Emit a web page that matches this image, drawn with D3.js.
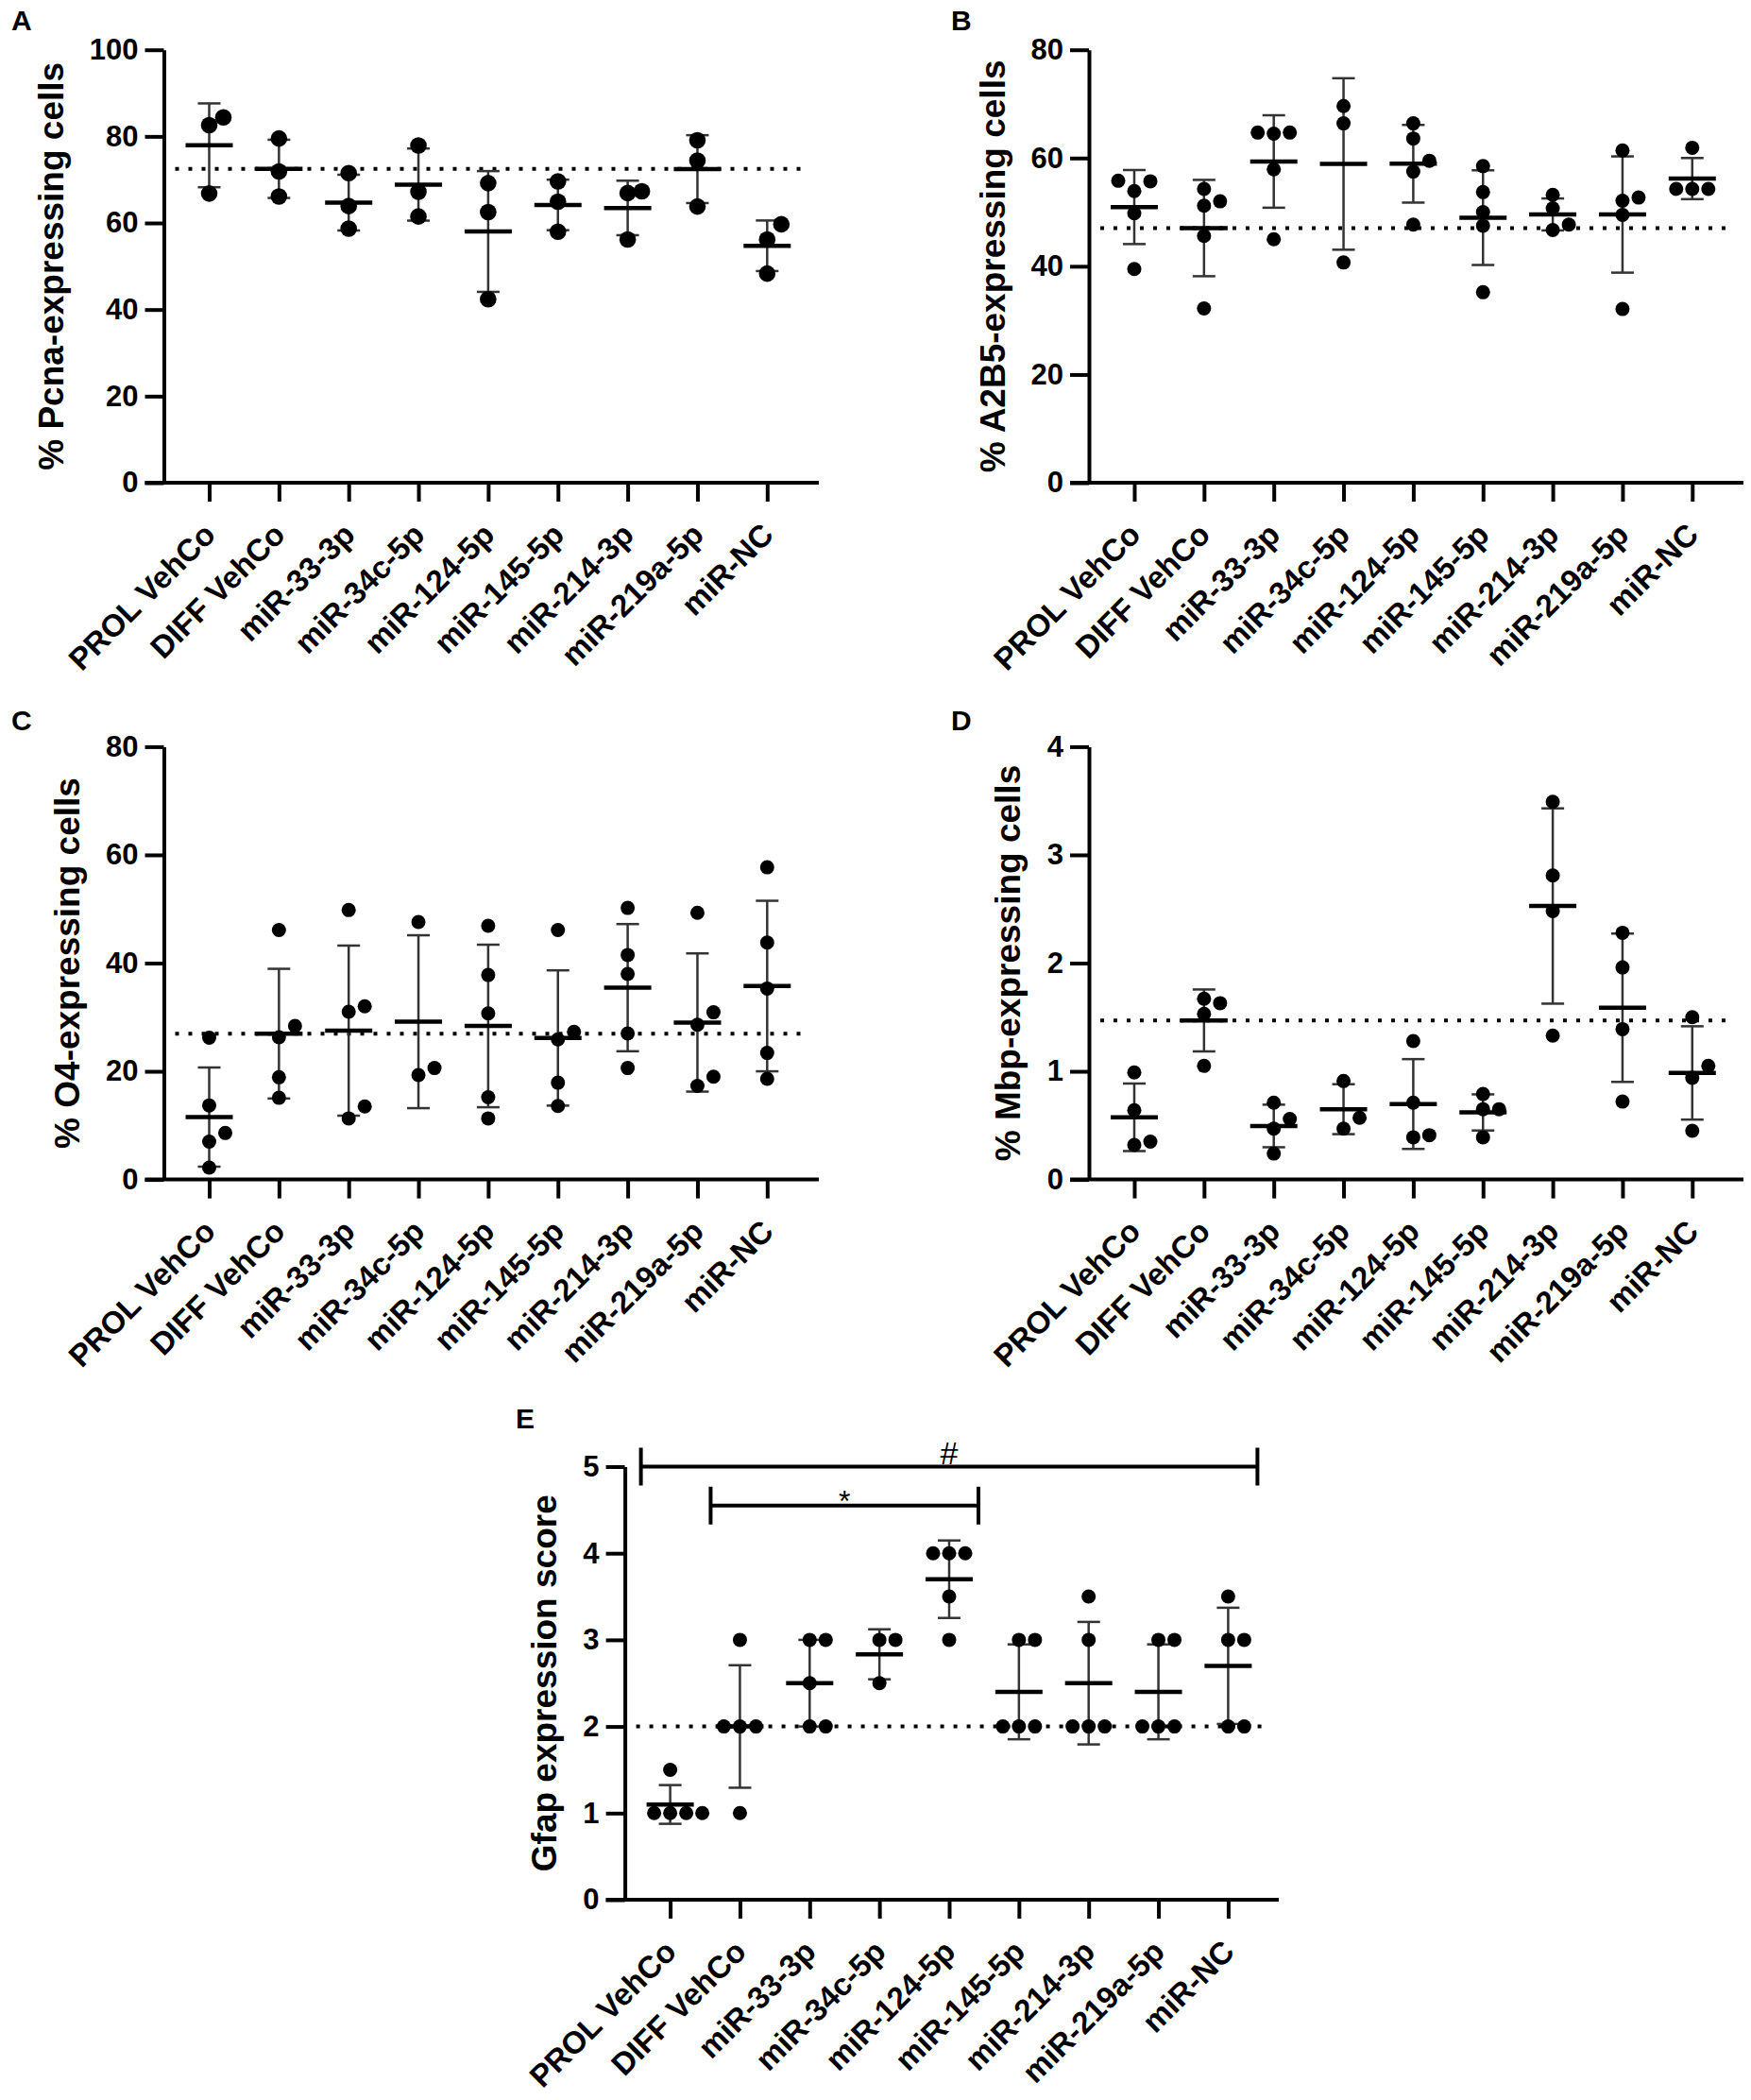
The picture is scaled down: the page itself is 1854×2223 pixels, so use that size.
<!DOCTYPE html>
<html>
<head>
<meta charset="utf-8">
<script src="https://cdn.jsdelivr.net/npm/d3@7"></script>
<style>
  html, body { margin: 0; padding: 0; background: #fff; }
  svg { display: block; }
  text { font-family: Arial, "Liberation Sans", Helvetica, sans-serif; }
</style>
</head>
<body>
<svg id="chart" width="1854" height="2223"></svg>
<script>
// ---------------- DATA ----------------
const categories = ["PROL VehCo", "DIFF VehCo", "miR-33-3p", "miR-34c-5p", "miR-124-5p",
                    "miR-145-5p", "miR-214-3p", "miR-219a-5p", "miR-NC"];

// Panel A: % Pcna-expressing cells (one array of replicate values per category)
const pcnaValues = [
  [84.4, 82.6, 66.8],
  [79.5, 71.9, 66.1],
  [71.5, 63.9, 58.7],
  [77.9, 67.2, 61.5],
  [69.2, 62.5, 42.4],
  [69.6, 64.9, 58.0],
  [67.3, 66.9, 56.2],
  [79.1, 74.4, 63.8],
  [59.7, 56.2, 48.3]
];
const pcnaTicks = [0, 20, 40, 60, 80, 100];

// Panel B: % A2B5-expressing cells
const a2b5Values = [
  [55.7, 55.8, 53.9, 49.8, 39.5],
  [52.0, 54.3, 51.2, 45.6, 32.2],
  [64.5, 64.7, 64.7, 57.9, 45.0],
  [69.6, 66.4, 40.7],
  [59.5, 66.4, 63.6, 57.5, 47.7],
  [58.5, 53.7, 50.0, 47.5, 35.2],
  [53.2, 50.7, 46.7, 47.7],
  [61.4, 52.1, 52.7, 49.5, 32.1],
  [61.9, 54.3, 54.3, 54.3]
];
const a2b5Ticks = [0, 20, 40, 60, 80];

// Panel C: % O4-expressing cells
const o4Values = [
  [26.2, 13.7, 8.6, 7.0, 2.2],
  [46.1, 28.4, 26.3, 18.9, 15.1],
  [49.8, 31.0, 32.0, 11.3, 13.5],
  [47.6, 19.3, 20.6],
  [46.9, 37.8, 30.7, 15.2, 11.3],
  [46.1, 27.3, 25.9, 17.9, 13.6],
  [50.2, 41.5, 38.0, 27.0, 20.6],
  [49.3, 30.9, 28.6, 19.0, 17.3],
  [57.7, 43.8, 35.3, 23.4, 18.6]
];
const o4Ticks = [0, 20, 40, 60, 80];

// Panel D: % Mbp-expressing cells
const mbpValues = [
  [0.99, 0.64, 0.32, 0.35],
  [1.63, 1.67, 1.53, 1.05],
  [0.71, 0.56, 0.47, 0.24],
  [0.91, 0.47, 0.57],
  [1.28, 0.71, 0.39, 0.41],
  [0.79, 0.65, 0.65, 0.39],
  [3.49, 2.81, 2.48, 1.33],
  [2.28, 1.96, 1.39, 0.72],
  [1.50, 1.05, 0.94, 0.45]
];
const mbpTicks = [0, 1, 2, 3, 4];

// Panel E: Gfap expression score
const gfapValues = [
  [1.5, 1, 1, 1, 1],
  [3, 2, 2, 2, 1],
  [3, 3, 2.5, 2, 2],
  [3, 3, 2.5],
  [4, 4, 4, 3.5, 3],
  [3, 3, 2, 2, 2],
  [3.5, 3, 2, 2, 2],
  [3, 3, 2, 2, 2],
  [3.5, 3, 3, 2, 2]
];
const gfapTicks = [0, 1, 2, 3, 4, 5];

// Significance brackets in panel E
const gfapSigFrom  = ["PROL VehCo", "DIFF VehCo"];
const gfapSigTo    = ["miR-NC", "miR-124-5p"];
const gfapSigLevel = [5, 4.55];
const gfapSigLabel = ["#", "*"];

// Reference (dotted) line = mean of this group
const referenceGroup = "DIFF VehCo";

// ---------------- PANELS (text + layout) ----------------
const panels = [
  { letter: "A", title: "% Pcna-expressing cells",  values: pcnaValues, ticks: pcnaTicks,
    letterX: 12,  letterY: 32,   axisX: 173.5, yTop: 52.7,   y0: 511,    xEnd: 867,  r: 8.8, slot: 15, thr: 17 },
  { letter: "B", title: "% A2B5-expressing cells",  values: a2b5Values, ticks: a2b5Ticks,
    letterX: 1007, letterY: 32,  axisX: 1153,  yTop: 52.7,   y0: 511,    xEnd: 1846, r: 7.5, slot: 17, thr: 14 },
  { letter: "C", title: "% O4-expressing cells",    values: o4Values,   ticks: o4Ticks,
    letterX: 12,  letterY: 773,  axisX: 173.5, yTop: 790.4,  y0: 1248.6, xEnd: 867,  r: 7.5, slot: 17, thr: 14 },
  { letter: "D", title: "% Mbp-expressing cells",   values: mbpValues,  ticks: mbpTicks,
    letterX: 1007, letterY: 773, axisX: 1153,  yTop: 790.4,  y0: 1248.6, xEnd: 1846, r: 7.5, slot: 17, thr: 14 },
  { letter: "E", title: "Gfap expression score",    values: gfapValues, ticks: gfapTicks,
    letterX: 546, letterY: 1512, axisX: 661.6, yTop: 1552.5, y0: 2011,   xEnd: 1354, r: 7.5, slot: 17, thr: 14,
    sig: true }
];

const svg = d3.select("#chart");
svg.append("rect").attr("width", 1854).attr("height", 2223).attr("fill", "#fff");

const BAND = 73.85;      // spacing between categories
const FIRST = 48;        // first category offset from y axis
const ERR = "#333";

function swarm(vals, y, slot, thr) {
  const pts = vals.map(v => ({ v, y: y(v) })).sort((a, b) => a.v - b.v);
  const placed = [];
  pts.forEach(p => {
    for (let k = 0; k < 30; k++) {
      const off = k === 0 ? 0 : (k % 2 === 1 ? 1 : -1) * Math.ceil(k / 2) * slot;
      const clash = placed.some(q => Math.abs(q.off - off) < slot * 0.9 && Math.abs(q.y - p.y) < thr);
      if (!clash) { p.off = off; placed.push(p); break; }
    }
  });
  return placed;
}

panels.forEach(P => {
  const g = svg.append("g");
  const maxV = d3.max(P.ticks);
  const y = d3.scaleLinear().domain([0, maxV]).range([P.y0, P.yTop]);
  const x = d3.scalePoint().domain(categories)
    .range([P.axisX + FIRST, P.axisX + FIRST + BAND * (categories.length - 1)]);

  // panel letter
  g.append("text").attr("x", P.letterX).attr("y", P.letterY)
    .attr("font-size", 30).attr("font-weight", "bold").text(P.letter);

  // reference dotted line
  const ref = d3.mean(P.values[categories.indexOf(referenceGroup)]);
  g.append("line")
    .attr("x1", P.axisX + 12).attr("x2", P.xEnd - 10)
    .attr("y1", y(ref)).attr("y2", y(ref))
    .attr("stroke", "#000").attr("stroke-width", 4).attr("stroke-dasharray", "4 10");

  // groups
  categories.forEach((c, i) => {
    const vals = P.values[i];
    const m = d3.mean(vals), sd = d3.deviation(vals);
    const cx = x(c);
    const gg = g.append("g");
    gg.append("line").attr("x1", cx).attr("x2", cx).attr("y1", y(m + sd)).attr("y2", y(m - sd))
      .attr("stroke", ERR).attr("stroke-width", 2.5);
    [m + sd, m - sd].forEach(v => {
      gg.append("line").attr("x1", cx - 12).attr("x2", cx + 12).attr("y1", y(v)).attr("y2", y(v))
        .attr("stroke", ERR).attr("stroke-width", 2.5);
    });
    gg.append("line").attr("x1", cx - 25).attr("x2", cx + 25).attr("y1", y(m)).attr("y2", y(m))
      .attr("stroke", "#000").attr("stroke-width", 4.5);
    gg.selectAll("circle").data(swarm(vals, y, P.slot, P.thr)).join("circle")
      .attr("cx", d => cx + d.off).attr("cy", d => d.y).attr("r", P.r).attr("fill", "#000");
  });

  // y axis
  const ya = g.append("g").attr("transform", `translate(${P.axisX},0)`)
    .call(d3.axisLeft(y).tickValues(P.ticks).tickSize(20).tickSizeOuter(0).tickPadding(7).tickFormat(d3.format("d")));
  ya.select(".domain").attr("stroke", "#000").attr("stroke-width", 4);
  ya.selectAll(".tick line").attr("stroke", "#000").attr("stroke-width", 4);
  ya.selectAll(".tick text").attr("font-size", 31).attr("font-weight", "bold")
    .attr("font-family", "Arial, 'Liberation Sans', sans-serif").attr("fill", "#000");
  let maxW = 0;
  ya.selectAll(".tick text").each(function () { maxW = Math.max(maxW, this.getBBox().width); });

  // y title
  const tx = P.axisX - 27 - maxW - 28;
  g.append("text")
    .attr("transform", `translate(${tx},${(P.yTop + P.y0) / 2}) rotate(-90)`)
    .attr("text-anchor", "middle").attr("font-size", 37).attr("font-weight", "bold")
    .text(P.title);

  // x axis baseline
  g.append("line").attr("x1", P.axisX - 20).attr("x2", P.xEnd).attr("y1", P.y0).attr("y2", P.y0)
    .attr("stroke", "#000").attr("stroke-width", 4);
  const xa = g.append("g").attr("transform", `translate(0,${P.y0})`)
    .call(d3.axisBottom(x).tickSize(20).tickSizeOuter(0));
  xa.select(".domain").remove();
  xa.selectAll(".tick line").attr("stroke", "#000").attr("stroke-width", 4);
  xa.selectAll(".tick text")
    .attr("x", null).attr("y", null).attr("dy", null)
    .attr("transform", "translate(8,57) rotate(-45)")
    .attr("text-anchor", "end").attr("font-size", 33).attr("font-weight", "bold")
    .attr("font-family", "Arial, 'Liberation Sans', sans-serif").attr("fill", "#000");

  // significance brackets
  if (P.sig) {
    gfapSigFrom.forEach((a, i) => {
      const x1 = x(a) - 31, x2 = x(gfapSigTo[i]) + 31, yy = y(gfapSigLevel[i]);
      const sg = g.append("g");
      sg.append("line").attr("x1", x1).attr("x2", x2).attr("y1", yy).attr("y2", yy)
        .attr("stroke", "#000").attr("stroke-width", 4);
      [x1, x2].forEach(xx => sg.append("line").attr("x1", xx).attr("x2", xx)
        .attr("y1", yy - 20).attr("y2", yy + 20).attr("stroke", "#000").attr("stroke-width", 4));
      const isHash = gfapSigLabel[i] === "#";
      sg.append("text").attr("x", (x1 + x2) / 2).attr("y", isHash ? yy - 3 : yy + 6)
        .attr("text-anchor", "middle").attr("font-size", isHash ? 34 : 32)
        .text(gfapSigLabel[i]);
    });
  }
});
</script>
</body>
</html>
